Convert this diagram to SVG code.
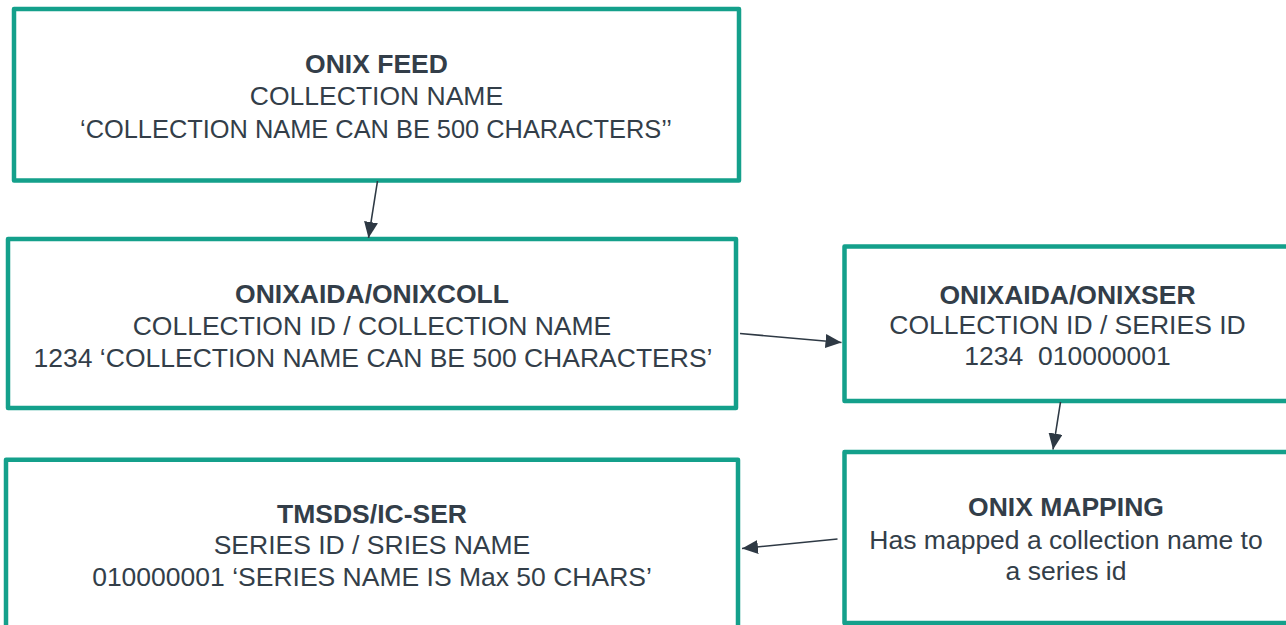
<svg xmlns="http://www.w3.org/2000/svg" width="1286" height="625" viewBox="0 0 1286 625">
<style>
.box{fill:#ffffff;stroke:#14a08b;stroke-width:4.5;stroke-linejoin:round}
.t{font-family:"Liberation Sans",Arial,sans-serif;font-size:26.5px;fill:#333e49;text-anchor:middle}
.b{font-weight:bold}
.c{stroke:#2e3944;stroke-width:1.6;fill:none;marker-end:url(#ah)}
</style>
<defs>
<marker id="ah" markerUnits="userSpaceOnUse" markerWidth="18" markerHeight="16" refX="16" refY="7" orient="auto" viewBox="0 0 18 16">
<path d="M0,0 L16,7 L0,14 Z" fill="#2e3944"/>
</marker>
</defs>
<rect width="1286" height="625" fill="#ffffff"/>
<g id="onix-feed">
<rect class="box" x="14" y="9" width="725" height="171.5"/>
<text class="t b" x="376.5" y="73">ONIX FEED</text>
<text class="t" x="376.5" y="105">COLLECTION NAME</text>
<text class="t" x="376" y="137.5" textLength="592" lengthAdjust="spacingAndGlyphs">‘COLLECTION NAME CAN BE 500 CHARACTERS’’</text>
</g>
<g id="onixcoll">
<rect class="box" x="8" y="239" width="728" height="169"/>
<text class="t b" x="372" y="303">ONIXAIDA/ONIXCOLL</text>
<text class="t" x="372" y="334.5">COLLECTION ID / COLLECTION NAME</text>
<text class="t" x="373" y="366.5">1234 ‘COLLECTION NAME CAN BE 500 CHARACTERS’</text>
</g>
<g id="onixser">
<rect class="box" x="844.5" y="246.5" width="446" height="154.5"/>
<text class="t b" x="1067.5" y="303.5">ONIXAIDA/ONIXSER</text>
<text class="t" x="1067.5" y="334">COLLECTION ID / SERIES ID</text>
<text class="t" x="1067.5" y="365" xml:space="preserve">1234  010000001</text>
</g>
<g id="onix-mapping">
<rect class="box" x="844.5" y="452" width="444" height="171"/>
<text class="t b" x="1066" y="516">ONIX MAPPING</text>
<text class="t" x="1066" y="548.5">Has mapped a collection name to</text>
<text class="t" x="1066" y="580">a series id</text>
</g>
<g id="ic-ser">
<rect class="box" x="6" y="459.7" width="732" height="175"/>
<text class="t b" x="372" y="522.5">TMSDS/IC-SER</text>
<text class="t" x="372" y="554">SERIES ID / SRIES NAME</text>
<text class="t" x="372" y="585.5">010000001 ‘SERIES NAME IS Max 50 CHARS’</text>
</g>
<g id="connectors">
<line class="c" x1="377.5" y1="181" x2="368.5" y2="238"/>
<line class="c" x1="740" y1="333.5" x2="841.5" y2="342.5"/>
<line class="c" x1="1060.5" y1="402" x2="1053" y2="449.5"/>
<line class="c" x1="837.5" y1="539" x2="742" y2="548.5"/>
</g>
</svg>
